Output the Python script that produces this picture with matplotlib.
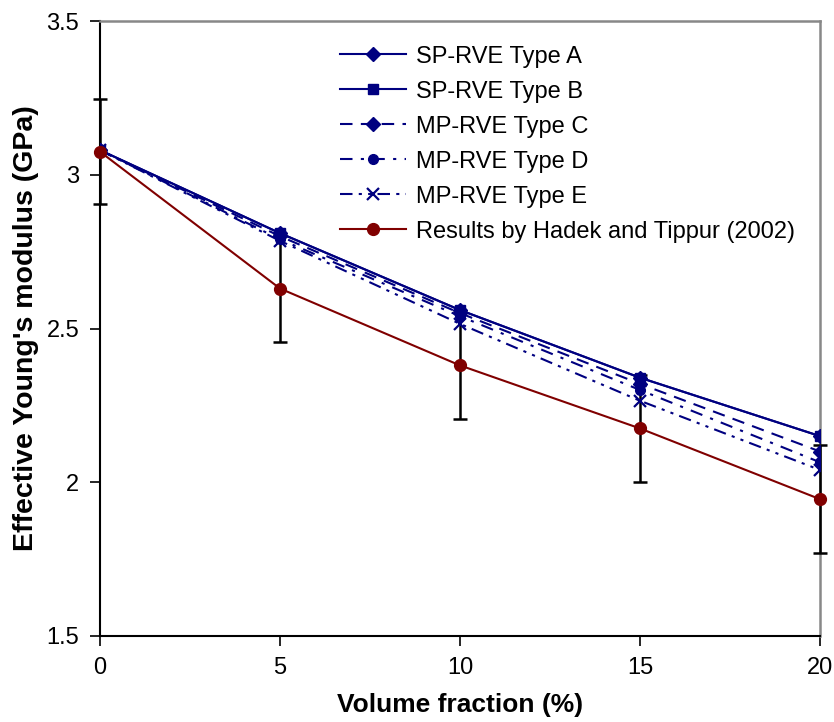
import matplotlib
matplotlib.use("Agg")
import matplotlib.pyplot as plt

plt.rcParams['font.family'] = ['Liberation Sans', 'DejaVu Sans']

volume_fraction = [0, 5, 10, 15, 20]
sp_type_a = [3.08, 2.81, 2.56, 2.34, 2.15]
sp_type_b = [3.08, 2.81, 2.56, 2.34, 2.15]
mp_type_c = [3.08, 2.80, 2.55, 2.32, 2.10]
mp_type_d = [3.08, 2.79, 2.54, 2.30, 2.065]
mp_type_e = [3.08, 2.785, 2.515, 2.265, 2.04]
hadek = [3.075, 2.63, 2.38, 2.175, 1.945]
hadek_err = [0.17, 0.175, 0.175, 0.175, 0.175]

navy = '#000080'
dred = '#800000'

fig = plt.figure(figsize=(8.34, 7.22), dpi=100)
ax = fig.add_axes([100/834, 86/722, 720/834, 615/722])

ax.plot(volume_fraction, sp_type_a, color=navy, lw=1.5, marker='D', ms=7,
        label='SP-RVE Type A', zorder=5)
ax.plot(volume_fraction, sp_type_b, color=navy, lw=1.5, marker='s', ms=7,
        label='SP-RVE Type B', zorder=5)
ax.plot(volume_fraction, mp_type_c, color=navy, lw=1.5, ls=(0, (6, 4)), marker='D', ms=7,
        label='MP-RVE Type C', zorder=5)
ax.plot(volume_fraction, mp_type_d, color=navy, lw=1.5, ls=(0, (6, 4, 1.5, 4)), marker='o', ms=7,
        label='MP-RVE Type D', zorder=5)
ax.plot(volume_fraction, mp_type_e, color=navy, lw=1.5, ls=(0, (6, 3, 1.5, 3, 1.5, 3)), marker='x',
        ms=8, mew=1.6, label='MP-RVE Type E', zorder=5)
ax.errorbar(volume_fraction, hadek, yerr=hadek_err, fmt='none',
            ecolor='black', elinewidth=1.8, capsize=5, capthick=1.8, zorder=4, clip_on=False)
ax.plot(volume_fraction, hadek, color=dred, lw=1.5, marker='o', ms=8.5,
        label='Results by Hadek and Tippur (2002)', zorder=6, clip_on=False)

ax.set_xlim(0, 20)
ax.set_ylim(1.5, 3.5)
ax.set_xticks([0, 5, 10, 15, 20])
ax.set_yticks([1.5, 2, 2.5, 3, 3.5])
ax.set_yticklabels(['1.5', '2', '2.5', '3', '3.5'])
ax.tick_params(axis='both', direction='out', length=7, width=1.2, labelsize=17, pad=8)

for s in ['left', 'bottom']:
    ax.spines[s].set_color('black')
    ax.spines[s].set_linewidth(1.5)
for s in ['top', 'right']:
    ax.spines[s].set_color('#888888')
    ax.spines[s].set_linewidth(1.8)

ax.set_xlabel('Volume fraction (%)', fontsize=19, fontweight='bold', labelpad=10)
ax.set_ylabel("Effective Young's modulus (GPa)", fontsize=20.5, fontweight='bold', labelpad=5)

leg = ax.legend(loc='upper left', bbox_to_anchor=(0.333, 0.96), frameon=False, fontsize=17,
                handlelength=2.8, handletextpad=0.45, labelspacing=0.55,
                borderpad=0, borderaxespad=0)

fig.savefig('out.png', dpi=100)
